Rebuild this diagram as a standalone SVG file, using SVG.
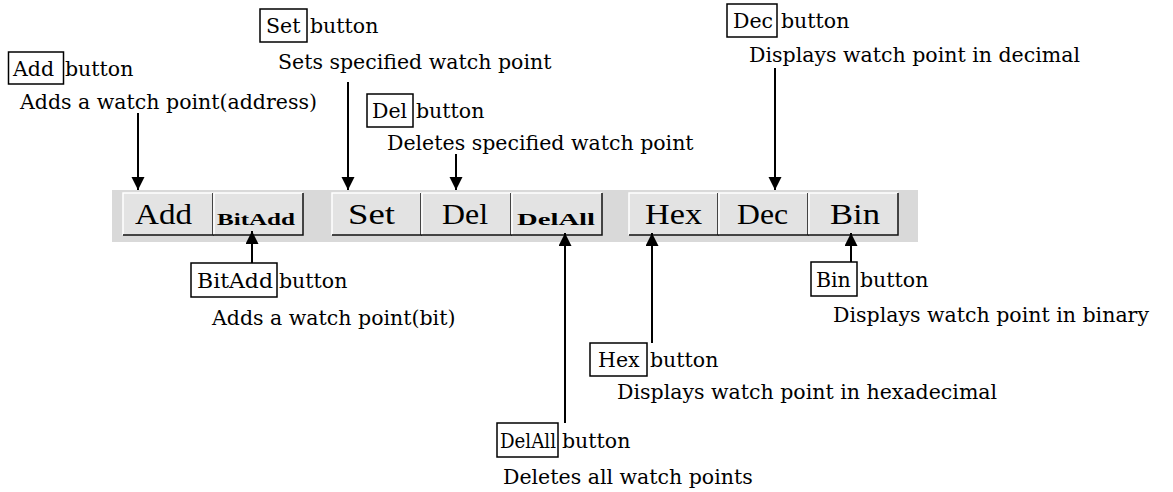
<svg xmlns="http://www.w3.org/2000/svg" width="1173" height="492" viewBox="0 0 1173 492">
<style>
.lbl{font-family:"DejaVu Serif","Liberation Serif",serif;font-size:20.5px;fill:#000}
.box{fill:none;stroke:#000;stroke-width:1.5}
.btn{fill:#e3e3e3}
.hi{fill:none;stroke:#fff;stroke-width:1.5}
.sh{fill:none;stroke:#111;stroke-width:1.5}
.bt{font-family:"Liberation Serif","DejaVu Serif",serif;font-size:30px;fill:#000}
.bts{font-family:"Liberation Serif","DejaVu Serif",serif;font-size:16px;font-weight:bold;fill:#000}
.con{stroke:#000;stroke-width:2;fill:none;marker-end:url(#ah)}
</style>
<defs>
<marker id="ah" markerUnits="userSpaceOnUse" markerWidth="14" markerHeight="14" refX="13" refY="6.5" orient="auto">
<path d="M0,0 L13,6.5 L0,13 z" fill="#000"/>
</marker>
</defs>
<rect width="1173" height="492" fill="#fff"/>
<g id="toolbar">
<rect x="112" y="190" width="806" height="52" fill="#d9d9d9"/>
<g id="btn-add"><rect class="btn" x="123" y="193" width="90" height="42"/><polyline class="hi" points="123,235 123,193 213,193"/><polyline class="sh" points="213,193 213,235 123,235"/><text class="bt" x="135" y="224" textLength="57" lengthAdjust="spacingAndGlyphs">Add</text></g>
<g id="btn-bitadd"><rect class="btn" x="213" y="193" width="90" height="42"/><polyline class="hi" points="214,235 214,193 303,193"/><polyline class="sh" points="303,193 303,235 213,235"/><text class="bts" x="217" y="225" textLength="78" lengthAdjust="spacingAndGlyphs">BitAdd</text></g>
<g id="btn-set"><rect class="btn" x="332" y="193" width="89" height="42"/><polyline class="hi" points="332,235 332,193 421,193"/><polyline class="sh" points="421,193 421,235 332,235"/><text class="bt" x="348" y="224" textLength="47" lengthAdjust="spacingAndGlyphs">Set</text></g>
<g id="btn-del"><rect class="btn" x="421" y="193" width="90" height="42"/><polyline class="hi" points="422,235 422,193 511,193"/><polyline class="sh" points="511,193 511,235 421,235"/><text class="bt" x="442" y="224" textLength="46" lengthAdjust="spacingAndGlyphs">Del</text></g>
<g id="btn-delall"><rect class="btn" x="511" y="193" width="91" height="42"/><polyline class="hi" points="512,235 512,193 602,193"/><polyline class="sh" points="602,193 602,235 511,235"/><text class="bts" x="517" y="225" textLength="78" lengthAdjust="spacingAndGlyphs">DelAll</text></g>
<g id="btn-hex"><rect class="btn" x="629" y="193" width="89" height="42"/><polyline class="hi" points="629,235 629,193 718,193"/><polyline class="sh" points="718,193 718,235 629,235"/><text class="bt" x="645" y="224" textLength="57" lengthAdjust="spacingAndGlyphs">Hex</text></g>
<g id="btn-dec"><rect class="btn" x="718" y="193" width="90" height="42"/><polyline class="hi" points="719,235 719,193 808,193"/><polyline class="sh" points="808,193 808,235 718,235"/><text class="bt" x="737" y="224" textLength="51" lengthAdjust="spacingAndGlyphs">Dec</text></g>
<g id="btn-bin"><rect class="btn" x="808" y="193" width="90" height="42"/><polyline class="hi" points="809,235 809,193 898,193"/><polyline class="sh" points="898,193 898,235 808,235"/><text class="bt" x="830" y="224" textLength="50" lengthAdjust="spacingAndGlyphs">Bin</text></g>
</g>
<g id="label-add"><rect class="box" x="8.5" y="52" width="55" height="32"/><text class="lbl" x="13" y="76">Add</text><text class="lbl" x="65" y="76">button</text><text class="lbl" x="20" y="109">Adds a watch point(address)</text></g>
<g id="label-set"><rect class="box" x="260" y="9" width="47" height="33"/><text class="lbl" x="266" y="33">Set</text><text class="lbl" x="310" y="33">button</text><text class="lbl" x="278" y="69">Sets specified watch point</text></g>
<g id="label-del"><rect class="box" x="367" y="94" width="46" height="33"/><text class="lbl" x="372" y="118">Del</text><text class="lbl" x="416" y="118">button</text><text class="lbl" x="387" y="150">Deletes specified watch point</text></g>
<g id="label-dec"><rect class="box" x="727" y="4" width="50" height="33"/><text class="lbl" x="733" y="28">Dec</text><text class="lbl" x="781" y="28">button</text><text class="lbl" x="749" y="62">Displays watch point in decimal</text></g>
<g id="label-bitadd"><rect class="box" x="191" y="263" width="86" height="34"/><text class="lbl" x="197" y="288" textLength="76" lengthAdjust="spacingAndGlyphs">BitAdd</text><text class="lbl" x="279" y="288">button</text><text class="lbl" x="212" y="325">Adds a watch point(bit)</text></g>
<g id="label-bin"><rect class="box" x="811" y="262" width="46" height="34"/><text class="lbl" x="816" y="287">Bin</text><text class="lbl" x="860" y="287">button</text><text class="lbl" x="833" y="322">Displays watch point in binary</text></g>
<g id="label-hex"><rect class="box" x="590" y="343" width="57" height="33"/><text class="lbl" x="598" y="367">Hex</text><text class="lbl" x="650" y="367">button</text><text class="lbl" x="617" y="399">Displays watch point in hexadecimal</text></g>
<g id="label-delall"><rect class="box" x="497" y="423" width="61" height="34"/><text class="lbl" x="500" y="448" textLength="56" lengthAdjust="spacingAndGlyphs">DelAll</text><text class="lbl" x="562" y="448">button</text><text class="lbl" x="503" y="484">Deletes all watch points</text></g>
<g id="connectors">
<line class="con" x1="138" y1="113" x2="138" y2="190"/>
<line class="con" x1="348" y1="82" x2="348" y2="190"/>
<line class="con" x1="456" y1="154" x2="456" y2="190"/>
<line class="con" x1="775" y1="68" x2="775" y2="190"/>
<line class="con" x1="252" y1="263" x2="252" y2="231"/>
<line class="con" x1="565" y1="423" x2="565" y2="233"/>
<line class="con" x1="652" y1="343" x2="652" y2="233"/>
<line class="con" x1="851" y1="262" x2="851" y2="233"/>
</g>
</svg>
